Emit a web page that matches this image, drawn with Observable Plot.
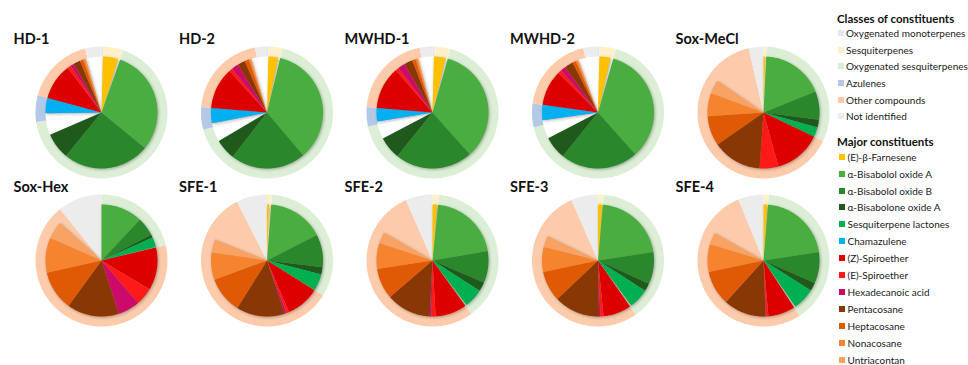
<!DOCTYPE html>
<html>
<head>
<meta charset="utf-8">
<script src="https://cdn.jsdelivr.net/npm/d3@7"></script>
<script src="https://cdn.jsdelivr.net/npm/@observablehq/plot@0.6"></script>
<style>
  body { margin: 0; background: #fff; }
  #fig { position: relative; width: 968px; height: 365px; overflow: hidden; font-family: Lato, "Open Sans", sans-serif; }
  #fig svg { position: absolute; left: 0; top: 0; }
  .lg { position: absolute; white-space: nowrap; font-size: 10px; line-height: 12px; color: #1a1a1a; }
  .lg.head { font-weight: bold; font-size: 11.5px; line-height: 14px; color: #111; }
  .sw { position: absolute; width: 6px; height: 6px; }
</style>
</head>
<body>
<div id="fig"></div>
<script>
// Extracts and their composition (% of total area)
const samples = ["HD-1", "HD-2", "MWHD-1", "MWHD-2", "Sox-MeCl", "Sox-Hex", "SFE-1", "SFE-2", "SFE-3", "SFE-4"];

// Classes of constituents (outer pie)
const classNames = ["Oxygenated monoterpenes", "Sesquiterpenes", "Oxygenated sesquiterpenes", "Azulenes", "Other compounds", "Not identified"];
const classColors = ["#e4e4f6", "#fff0cc", "#dcefd6", "#b4c8e8", "#fbcbac", "#ececec"];
const oxygenatedMonoterpenes   = [0.4, 0.4, 0.4, 0.4, 0, 0, 0, 0, 0, 0];
const sesquiterpenes           = [5.0, 3.4, 4.0, 4.0, 0.8, 0, 1.2, 1.6, 1.4, 1.3];
const oxygenatedSesquiterpenes = [67.3, 67.0, 67.2, 67.0, 31.3, 21.3, 32.7, 38.4, 38.9, 39.5];
const azulenes                 = [6.5, 5.5, 4.7, 5.8, 0, 0, 0, 0, 0, 0];
const otherCompounds           = [16.8, 20.8, 20.6, 19.2, 64.3, 67.9, 58.6, 53.4, 53.1, 53.0];
const notIdentified            = [4.0, 2.9, 3.1, 3.6, 3.6, 10.8, 7.5, 6.6, 6.6, 6.2];

// Major constituents (inner pie)
const majorNames = ["(E)-β-Farnesene", "α-Bisabolol oxide A", "α-Bisabolol oxide B", "α-Bisabolone oxide A",
  "Sesquiterpene lactones", "Chamazulene", "(Z)-Spiroether", "(E)-Spiroether", "Hexadecanoic acid",
  "Pentacosane", "Heptacosane", "Nonacosane", "Untriacontan"];
const majorColors = ["#ffc000", "#4aad3f", "#2b872b", "#1f5a1c", "#00b050", "#00b0f0", "#dc0000",
  "#ff1a1a", "#cc0a6a", "#8a3706", "#e05a06", "#f6842e", "#f8a264"];
const farnesene          = [4.4, 2.8, 3.4, 3.2, 0.5, 0, 0.6, 1.3, 1.2, 1.1];
const bisabololOxideA    = [30.5, 35.0, 34.0, 34.0, 18.1, 12.0, 16.3, 20.7, 21.2, 21.3];
const bisabololOxideB    = [25.0, 21.7, 22.4, 22.4, 8.2, 5.4, 9.4, 9.1, 9.2, 9.0];
const bisabolonOxideA    = [7.6, 6.0, 6.5, 6.6, 2.2, 0.9, 2.1, 2.7, 2.3, 2.4];
const lactones           = [0, 0, 0, 0, 2.8, 2.8, 4.8, 5.5, 5.8, 6.4];
const chamazulene        = [4.4, 4.4, 3.9, 4.4, 0, 0, 0, 0, 0, 0];
const zSpiroether        = [10.5, 12.0, 12.3, 10.3, 13.6, 12.3, 9.7, 9.1, 8.1, 7.8];
const eSpiroether        = [1.0, 1.0, 1.0, 1.0, 5.4, 5.1, 0.8, 1.2, 0.9, 0.6];
const hexadecanoicAcid   = [1.0, 2.0, 2.0, 1.5, 0, 6.3, 0.5, 0.5, 0.4, 0.2];
const pentacosane        = [2.0, 2.2, 2.5, 2.5, 14.2, 15.0, 14.0, 12.9, 13.2, 12.3];
const heptacosane        = [1.0, 1.2, 1.0, 1.0, 8.6, 11.5, 10.5, 8.9, 8.8, 10.0];
const nonacosane         = [0.5, 0.5, 0.5, 0.5, 6.7, 10.1, 7.9, 7.4, 7.2, 8.0];
const untriacontan       = [0.3, 0.3, 0.3, 0.3, 4.0, 5.1, 3.8, 3.3, 3.3, 3.5];

// Which major constituents belong to which class
const classValues = [oxygenatedMonoterpenes, sesquiterpenes, oxygenatedSesquiterpenes, azulenes, otherCompounds, notIdentified];
const majorValues = [farnesene, bisabololOxideA, bisabololOxideB, bisabolonOxideA, lactones, chamazulene,
  zSpiroether, eSpiroether, hexadecanoicAcid, pentacosane, heptacosane, nonacosane, untriacontan];
const majorsOfClass = [[], [0], [1, 2, 3, 4], [5], [6, 7, 8, 9, 10, 11, 12], []];
// Azulenes: the unlisted part comes before chamazulene
const remainderFirst = new Set([3]);

// Hydrodistilled oils: unlisted remainder of the inner pie is left blank (white)
const blankRemainder = new Set(["HD-1", "HD-2", "MWHD-1", "MWHD-2"]);

// Layout of the 2 x 5 grid of pies
const W = 968, H = 365;
const colStep = 165.5, rowStep = 148;
const center = i => [101 + colStep * (i % 5), 112 + rowStep * Math.floor(i / 5)];
const rOuter = 66, rInner = 56;

// Wedge outline as a closed polygon, angles clockwise from 12 o'clock, in % of the circle
function wedge(id, i, p0, p1, r, fill) {
  const [cx, cy] = center(i);
  const a0 = p0 / 100 * 2 * Math.PI, a1 = p1 / 100 * 2 * Math.PI;
  const n = Math.max(2, Math.ceil((a1 - a0) / (Math.PI / 180)));
  const pts = [{id, fill, x: cx, y: cy}];
  for (let k = 0; k <= n; ++k) {
    const a = a0 + (a1 - a0) * k / n;
    pts.push({id, fill, x: cx + r * Math.sin(a), y: cy - r * Math.cos(a)});
  }
  return pts;
}

const classSlices = [], majorSlices = [], blankSlices = [];
samples.forEach((s, i) => {
  let pos = 0;
  classValues.forEach((vals, c) => {
    const v = vals[i];
    if (v > 0) classSlices.push(...wedge(`${s}-c${c}`, i, pos, pos + v, rOuter, classColors[c]));
    const listed = d3.sum(majorsOfClass[c], m => majorValues[m][i]);
    const rest = v - listed;
    let p = remainderFirst.has(c) ? pos + Math.max(0, rest) : pos;
    for (const m of majorsOfClass[c]) {
      const mv = majorValues[m][i];
      if (mv > 0) majorSlices.push(...wedge(`${s}-m${m}`, i, p, p + mv, rInner, majorColors[m]));
      p += mv;
    }
    if (blankRemainder.has(s) && rest > 0.05) {
      const r0 = remainderFirst.has(c) ? pos : pos + listed;
      blankSlices.push(...wedge(`${s}-r${c}`, i, r0, r0 + rest, rInner, "#ffffff"));
    }
    pos += v;
  });
});

const titles = samples.map((s, i) => ({label: s, x: 13 + colStep * (i % 5), y: 39 + rowStep * Math.floor(i / 5)}));

const chart = Plot.plot({
  width: W,
  height: H,
  margin: 0,
  x: {domain: [0, W], range: [0, W], axis: null},
  y: {domain: [0, H], range: [0, H], axis: null},
  color: {type: "identity"},
  marks: [
    Plot.line(classSlices, {x: "x", y: "y", z: "id", fill: "fill", stroke: "none", curve: "linear-closed"}),
    Plot.line(blankSlices, {x: "x", y: "y", z: "id", fill: "fill", stroke: "none", curve: "linear-closed"}),
    Plot.line(majorSlices, {x: "x", y: "y", z: "id", fill: "fill", stroke: "none", curve: "linear-closed",
      imageFilter: "drop-shadow(1.5px 1.8px 1.8px rgba(0,0,0,0.3))"}),
    Plot.text(titles, {x: "x", y: "y", text: "label", textAnchor: "start", fontSize: 14.5, fontWeight: "bold",
      fill: "#111", fontFamily: "Lato, 'Open Sans', sans-serif"})
  ]
});

const fig = document.getElementById("fig");
fig.appendChild(chart);

// Legend
function addText(text, x, yMid, cls) {
  const d = document.createElement("div");
  d.className = "lg" + (cls ? " " + cls : "");
  d.textContent = text;
  d.style.left = x + "px";
  d.style.top = (yMid - (cls ? 7 : 6)) + "px";
  fig.appendChild(d);
}
function addSwatch(color, x, yMid) {
  const d = document.createElement("div");
  d.className = "sw";
  d.style.background = color;
  d.style.left = x + "px";
  d.style.top = (yMid - 3) + "px";
  fig.appendChild(d);
}
addText("Classes of constituents", 837, 19, "head");
classNames.forEach((n, k) => {
  const y = 33.3 + 16.55 * k;
  addSwatch(classColors[k], 838, y);
  addText(n, 846, y);
});
addText("Major constituents", 837, 141.7, "head");
majorNames.forEach((n, k) => {
  const y = 156.7 + 16.9 * k;
  addSwatch(majorColors[k], 839, y);
  addText(n, 847.5, y);
});
</script>
</body>
</html>
